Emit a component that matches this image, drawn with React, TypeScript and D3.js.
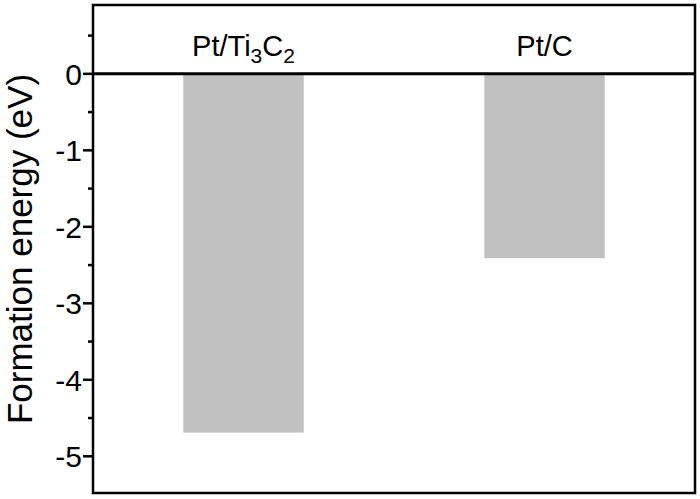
import React from "react";
import * as d3 from "d3";

const categories = ["Pt/Ti3C2", "Pt/C"];
const values = [-4.69, -2.41];
const majorTicks = [0, -1, -2, -3, -4, -5];
const minorTicks = [0.5, -0.5, -1.5, -2.5, -3.5, -4.5];

const W = 700;
const H = 499;
const M = { left: 93, right: 5, top: 5, bottom: 6 };
const FONT = "Arial, 'Liberation Sans', Helvetica, sans-serif";

export default function App() {
  const x = d3
    .scaleBand<string>()
    .domain(categories)
    .range([M.left, W - M.right])
    .paddingInner(0.6)
    .paddingOuter(0.3);
  const y = d3.scaleLinear().domain([0.9, -5.48]).range([M.top, H - M.bottom]);

  const labelY = 56;

  const renderLabel = (c: string) => {
    if (c === "Pt/Ti3C2") {
      return (
        <>
          Pt/Ti
          <tspan dy={7} fontSize={21}>3</tspan>
          <tspan dy={-7}>C</tspan>
          <tspan dy={7} fontSize={21}>2</tspan>
        </>
      );
    }
    return c;
  };

  return (
    <svg
      width={W}
      height={H}
      style={{ position: "absolute", left: 0, top: 0, background: "#fff" }}
      fontFamily={FONT}
    >
      <rect x={0} y={0} width={W} height={H} fill="#fff" />
      {categories.map((c, i) => (
        <rect
          key={c}
          x={x(c)}
          y={y(0)}
          width={x.bandwidth()}
          height={y(values[i]) - y(0)}
          fill="#c0c0c0"
        />
      ))}
      <rect
        x={M.left}
        y={M.top}
        width={W - M.left - M.right}
        height={H - M.top - M.bottom}
        fill="none"
        stroke="#000"
        strokeWidth={2.5}
      />
      <line
        x1={M.left}
        x2={W - M.right}
        y1={y(0)}
        y2={y(0)}
        stroke="#000"
        strokeWidth={3}
      />
      {majorTicks.map((t) => (
        <g key={"M" + t}>
          <line x1={M.left - 10} x2={M.left} y1={y(t)} y2={y(t)} stroke="#000" strokeWidth={2.5} />
          <text
            x={M.left - 11}
            y={y(t)}
            dy="0.36em"
            textAnchor="end"
            fontSize={30}
            fill="#000"
          >
            {t === 0 ? "0" : "-" + Math.abs(t)}
          </text>
        </g>
      ))}
      {minorTicks.map((t) => (
        <line key={"m" + t} x1={M.left - 5} x2={M.left} y1={y(t)} y2={y(t)} stroke="#000" strokeWidth={2.5} />
      ))}
      {categories.map((c) => (
        <text
          key={"l" + c}
          x={(x(c) as number) + x.bandwidth() / 2}
          y={labelY}
          textAnchor="middle"
          fontSize={29}
          fill="#000"
        >
          {renderLabel(c)}
        </text>
      ))}
      <text
        transform={`translate(32, ${(M.top + H - M.bottom) / 2}) rotate(-90)`}
        textAnchor="middle"
        fontSize={35}
        fill="#000"
      >
        Formation energy (eV)
      </text>
    </svg>
  );
}
